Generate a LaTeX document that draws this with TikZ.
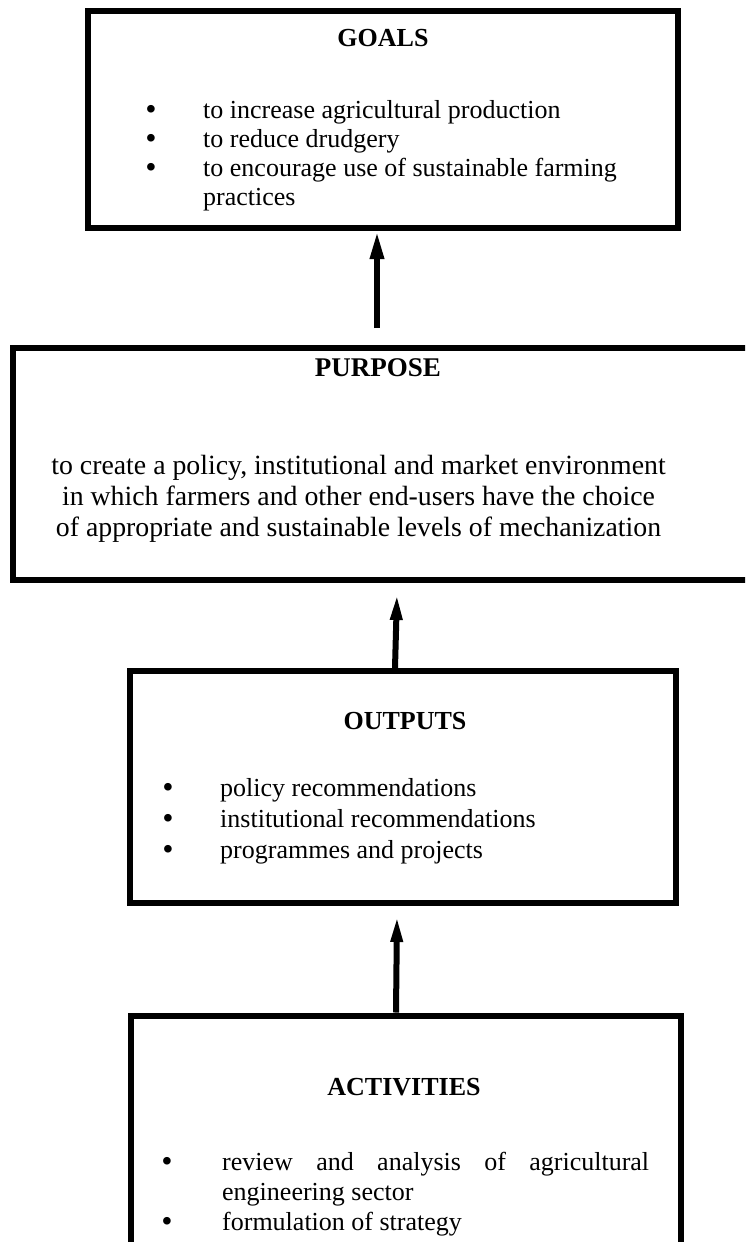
\documentclass[tikz,border=0pt]{standalone}
\usepackage{fontspec}
\setmainfont{Liberation Serif}
\usetikzlibrary{arrows.meta}
\begin{document}
\begin{tikzpicture}[x=1pt,y=-1pt,
  box/.style={draw, line width=6pt, inner sep=0pt},
  ttl/.style={font=\fontsize{26}{30}\selectfont\bfseries, anchor=base, inner sep=0pt},
  txt/.style={font=\fontsize{26}{30}\selectfont, anchor=base west, inner sep=0pt},
  ctxt/.style={font=\fontsize{27.8}{31}\selectfont, anchor=base, inner sep=0pt},
  bul/.style={font=\fontsize{28}{28}\selectfont\bfseries, inner sep=0pt, anchor=base},
  arr/.style={line width=6pt, -{Triangle[length=28pt,width=13pt]}},
  arrb/.style={line width=6pt, -{Triangle[length=27pt,width=11pt]}},
]
\clip (0,0) rectangle (745,1242);
\fill[white] (0,0) rectangle (745,1242);

% boxes
\node[box, minimum width=590pt, minimum height=217pt] (goals) at (383,119.5) {};
\node[box, minimum width=747pt, minimum height=232pt] (purpose) at (386.5,464) {};
\node[box, minimum width=545.5pt, minimum height=231.5pt] (outputs) at (402.75,786.75) {};
\node[box, minimum width=550.5pt, minimum height=260pt] (activities) at (405.75,1145.5) {};

% GOALS
\node[ttl] (gt) at (383,46) {GOALS};
\node[bul] (gb1) at (151,118) {•};
\node[bul] (gb2) at (151,147) {•};
\node[bul] (gb3) at (151,176) {•};
\node[txt] (g1) at (203,118) {to increase agricultural production};
\node[txt] (g2) at (203,147) {to reduce drudgery};
\node[txt] (g3) at (203,176) {to encourage use of sustainable farming};
\node[txt] (g4) at (203,205) {practices};

% PURPOSE
\node[ttl, font=\fontsize{27}{30}\selectfont\bfseries] (pt) at (378,376) {PURPOSE};
\node[ctxt] (p1) at (358.5,474.5) {to create a policy, institutional and market environment};
\node[ctxt] (p2) at (358.5,505.5) {in which farmers and other end-users have the choice};
\node[ctxt] (p3) at (358.5,536) {of appropriate and sustainable levels of mechanization};

% OUTPUTS
\node[ttl] (ot) at (405,729) {OUTPUTS};
\node[bul] (ob1) at (168,796) {•};
\node[bul] (ob2) at (168,827) {•};
\node[bul] (ob3) at (168,858) {•};
\node[txt] (o1) at (220,796) {policy recommendations};
\node[txt] (o2) at (220,827) {institutional recommendations};
\node[txt] (o3) at (220,858) {programmes and projects};

% ACTIVITIES
\node[ttl] (at) at (404,1095) {ACTIVITIES};
\node[bul] (ab1) at (167,1170) {•};
\node[bul] (ab2) at (167,1230) {•};
\node[txt] (a1) at (222,1170) {\makebox[427pt][s]{review and analysis of agricultural}};
\node[txt] (a2) at (222,1200) {engineering sector};
\node[txt] (a3) at (222,1230) {formulation of strategy};

% arrows
\coordinate (c1) at (377,328);
\coordinate (c2) at (395,671);
\coordinate (c2e) at (397,593);
\coordinate (c3) at (396,1016);
\coordinate (c3e) at (397,915);
\draw[arr] (c1) -- (c1 |- goals.south);
\draw[arrb] (c2 |- outputs.north) -- (c2e);
\draw[arrb] (c3 |- activities.north) -- (c3e);
\end{tikzpicture}
\end{document}
